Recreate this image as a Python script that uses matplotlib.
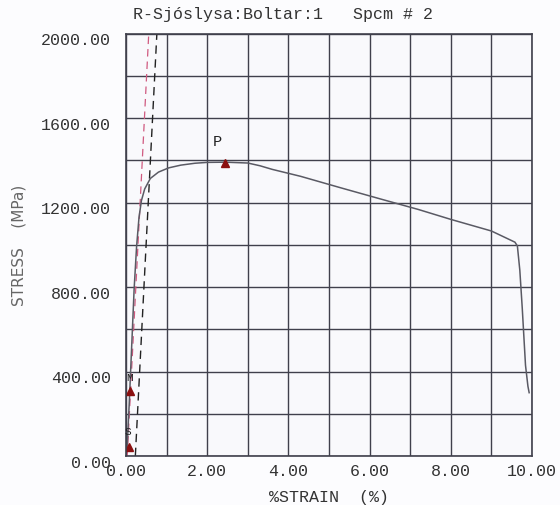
import matplotlib
matplotlib.use("Agg")
from matplotlib import pyplot as plt
import matplotlib.transforms as mtransforms

# stress-strain curve
strain = [0.00, 0.03, 0.08, 0.14, 0.20, 0.26, 0.32, 0.38, 0.46, 0.60, 0.80, 1.05, 1.35,
          1.70, 2.00, 2.45, 3.00, 3.30, 3.60, 4.30, 5.30, 6.30, 7.20, 8.00, 9.00, 9.58,
          9.64, 9.70, 9.76, 9.84, 9.90, 9.93]
stress = [0, 50, 250, 520, 790, 990, 1130, 1210, 1265, 1315, 1345, 1365, 1378,
          1387, 1391, 1392, 1388, 1375, 1358, 1325, 1270, 1216, 1168, 1121, 1066, 1013,
          995, 880, 700, 430, 330, 300]

# modulus line and offset line
mod_x = [0.03, 0.56]
mod_y = [0, 2000]
off_x = [0.23, 0.76]
off_y = [0, 2000]

# marked points
pt_names = ["S", "M", "P"]
pt_x = [0.07, 0.10, 2.44]
pt_y = [44, 310, 1390]
lbl_x = [0.05, 0.10, 2.25]
lbl_y = [115, 370, 1487]

xticks = [0, 2, 4, 6, 8, 10]
yticks = [0, 400, 800, 1200, 1600, 2000]

mono = "Liberation Mono"
ink = "#40404c"

fig = plt.figure(figsize=(5.6, 5.05), dpi=100, facecolor="#fcfcfe")
ax = fig.add_axes([0.225, 0.097, 0.725, 0.836])
ax.set_facecolor("#f9f9fc")

ax.set_xlim(0, 10)
ax.set_ylim(0, 2000)
ax.set_xticks(range(0, 11), minor=True)
ax.set_yticks(range(0, 2001, 200), minor=True)
ax.set_xticks(xticks)
ax.set_yticks(yticks)
ax.set_xticklabels(["%.2f" % v for v in xticks])
ax.set_yticklabels(["%.2f" % v for v in yticks])
ax.grid(True, which="both", color=ink, linewidth=1.0)
ax.tick_params(which="both", length=0)
ax.tick_params(axis="x", pad=6)
ax.tick_params(axis="y", pad=11)
for lab in ax.get_xticklabels() + ax.get_yticklabels():
    lab.set_fontfamily(mono)
    lab.set_fontsize(12)
    lab.set_color("#333333")
# y labels sit a bit below their grid lines on the print
shift = mtransforms.ScaledTranslation(0, -4 / 72, fig.dpi_scale_trans)
for lab in ax.get_yticklabels():
    lab.set_transform(lab.get_transform() + shift)
for s in ax.spines.values():
    s.set_color(ink)
    s.set_linewidth(1.2)

ax.plot(mod_x, mod_y, color="#d05a80", linestyle=(0, (6, 4)), linewidth=0.9)
ax.plot(off_x, off_y, color="#222222", linestyle=(0, (6, 4)), linewidth=1.0)
ax.plot(strain, stress, color="#5a5a64", linewidth=1.1)
ax.plot(pt_x, pt_y, linestyle="none", marker="^", markersize=6, color="#8b1010")
for name, x, y in zip(pt_names, lbl_x, lbl_y):
    ax.text(x, y, name, fontfamily=mono, fontsize=11 if name == "P" else 8,
            ha="center", va="center", color="#222222")

ax.set_title("R-Sjóslysa:Boltar:1   Spcm # 2", fontfamily=mono, fontsize=12,
             color="#333333", pad=11, x=0.387)
ax.set_xlabel("%STRAIN  (%)", fontfamily=mono, fontsize=12, color="#333333", labelpad=8)
ax.set_ylabel("STRESS    (MPa)", fontsize=11, color="#666666")
ax.yaxis.set_label_coords(-0.245, 0.5)

fig.savefig("out.png", dpi=100, facecolor=fig.get_facecolor())
